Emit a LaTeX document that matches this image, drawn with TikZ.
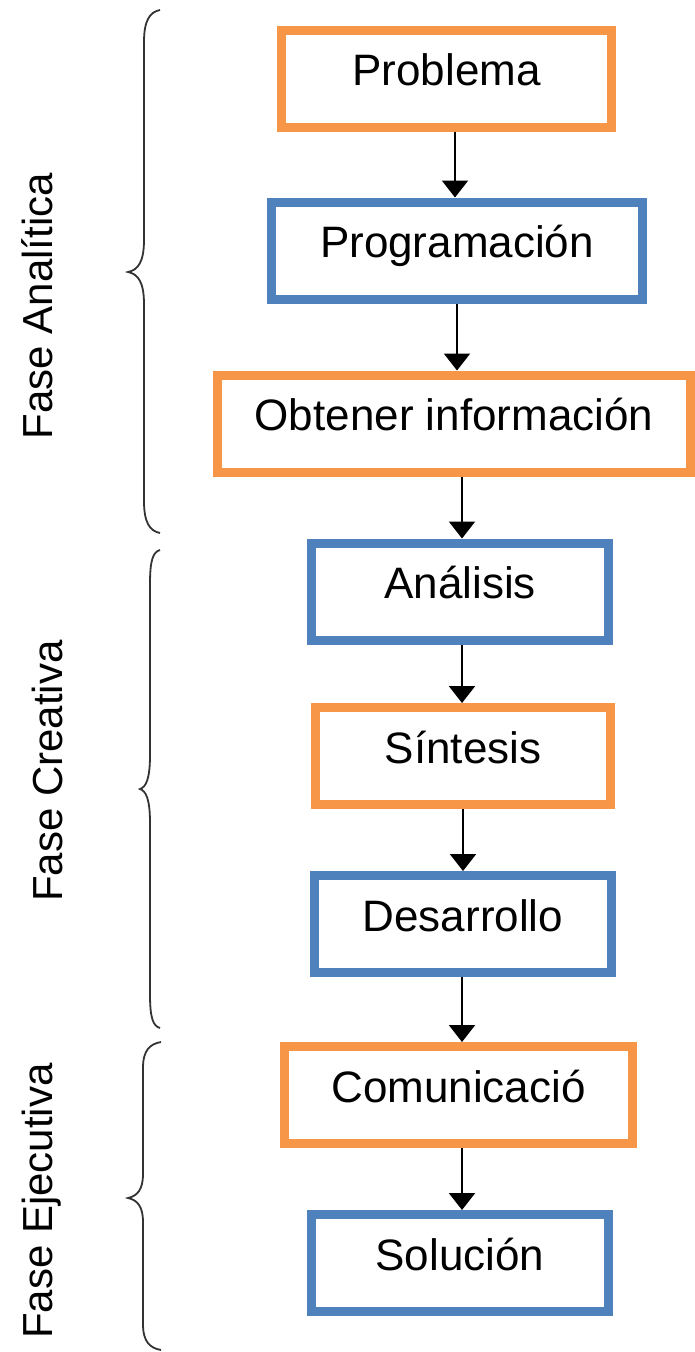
\documentclass[tikz,border=0pt]{standalone}
\usepackage{fontspec}
\setmainfont{Liberation Sans}
\usetikzlibrary{arrows.meta}
\definecolor{orangeC}{RGB}{247,150,70}
\definecolor{blueC}{RGB}{79,129,189}
\begin{document}
\begin{tikzpicture}[x=1pt,y=-1pt,
  box/.style={draw, line width=9pt, inner sep=0pt, text height=38pt, text depth=24pt,
    font=\fontsize{44}{50}\selectfont, minimum height=97pt, fill=white},
  ob/.style={box, draw=orangeC},
  bb/.style={box, draw=blueC},
  arr/.style={line width=2.2pt, -{Triangle[width=26pt,length=17pt]}},
  bracestyle/.style={line width=1.8pt, draw=black!80},
  phase/.style={rotate=90, anchor=base, font=\fontsize{42}{48}\selectfont}]
\fill[white] (0,0) rectangle (695,1352);
\useasboundingbox (0,0) rectangle (695,1352);
% boxes
\node[ob, minimum width=330pt] (p1) at (446.5,78.5) {Problema};
\node[bb, minimum width=371pt] (p2) at (457,250.5) {Programación};
\node[ob, minimum width=473pt] (p3) at (454,423.5) {Obtener información};
\node[bb, minimum width=297pt] (p4) at (460,591.5) {Análisis};
\node[ob, minimum width=295pt] (p5) at (463,756) {Síntesis};
\node[bb, minimum width=297pt] (p6) at (463,924) {Desarrollo};
\node[ob, minimum width=348pt] (p7) at (458.5,1095) {Comunicació};
\node[bb, minimum width=297pt] (p8) at (460,1263) {Solución};
% arrow columns
\coordinate (c1) at (455,0);
\coordinate (c2) at (457,0);
\coordinate (c3) at (462,0);
\coordinate (c4) at (462,0);
\coordinate (c5) at (463,0);
\coordinate (c6) at (462,0);
\coordinate (c7) at (462,0);
\draw[arr] (p1.south -| c1) -- (p2.north -| c1);
\draw[arr] (p2.south -| c2) -- (p3.north -| c2);
\draw[arr] (p3.south -| c3) -- (p4.north -| c3);
\draw[arr] (p4.south -| c4) -- (p5.north -| c4);
\draw[arr] (p5.south -| c5) -- (p6.north -| c5);
\draw[arr] (p6.south -| c6) -- (p7.north -| c6);
\draw[arr] (p7.south -| c7) -- (p8.north -| c7);
% braces
\draw[bracestyle] (160,10) .. controls (150,12) and (144,20) .. (144,42) -- (144,240)
  .. controls (144,262) and (138,270) .. (128,272)
  .. controls (138,274) and (144,282) .. (144,304) -- (144,501)
  .. controls (144,523) and (150,531) .. (160,533);
\draw[bracestyle] (160,550) .. controls (153,552) and (150,560) .. (150,584) -- (150,755)
  .. controls (150,779) and (146,787) .. (140,789)
  .. controls (146,791) and (150,799) .. (150,823) -- (150,994)
  .. controls (150,1018) and (153,1026) .. (160,1028);
\draw[bracestyle] (161,1042) .. controls (150,1044) and (143,1050) .. (143,1068) -- (143,1174)
  .. controls (143,1190) and (137,1196) .. (128,1198)
  .. controls (137,1200) and (143,1206) .. (143,1222) -- (143,1324)
  .. controls (143,1342) and (150,1348) .. (161,1350);
% phase labels
\node[phase] (f1) at (52,306) {Fase Analítica};
\node[phase] (f2) at (62,771) {Fase Creativa};
\node[phase] (f3) at (52,1201) {Fase Ejecutiva};
\end{tikzpicture}
\end{document}
